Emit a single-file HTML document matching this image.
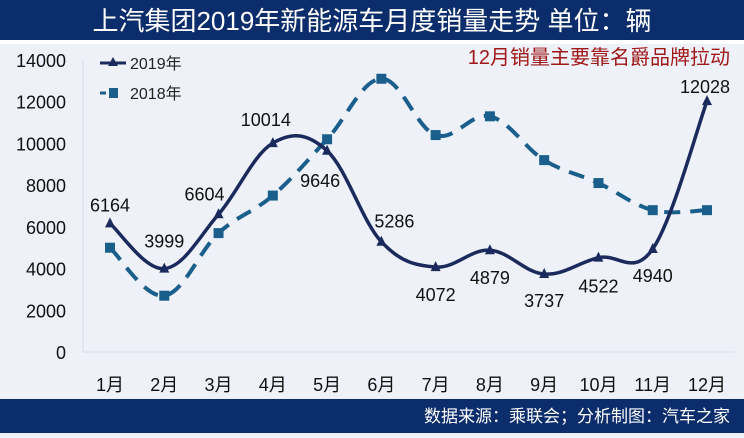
<!DOCTYPE html>
<html><head><meta charset="utf-8"><style>
body{margin:0;width:744px;height:433px;overflow:hidden;font-family:"Liberation Sans","Noto Sans CJK SC",sans-serif;background:#eef1f8}
</style></head><body>
<svg id="c" width="744" height="433" xmlns="http://www.w3.org/2000/svg">
<rect x="0" y="0" width="744" height="40" fill="#0c2d6b"/>
<rect x="0" y="40" width="744" height="4" fill="#ffffff"/>
<text x="372" y="30" text-anchor="middle" font-size="26" fill="#ffffff" font-family="Liberation Sans,Noto Sans CJK SC,sans-serif">上汽集团2019年新能源车月度销量走势  单位：辆</text>
<rect x="0" y="399" width="744" height="34" fill="#0c2d6b"/>
<text x="730" y="422" text-anchor="end" font-size="17" fill="#ffffff" font-family="Liberation Sans,Noto Sans CJK SC,sans-serif">数据来源：乘联会；分析制图：汽车之家</text>
<text x="730" y="64" text-anchor="end" font-size="20" fill="#a01818" font-family="Liberation Sans,Noto Sans CJK SC,sans-serif">12月销量主要靠名爵品牌拉动</text>
<line x1="83" y1="60" x2="83" y2="352" stroke="#d6dbe6" stroke-width="1"/>
<g id="legend">
<g><line x1="100" y1="63" x2="126" y2="63" stroke="#1a2a5c" stroke-width="3"/><path d="M113,57 L118,66 L108,66Z" fill="#1a2a5c"/><text x="130" y="69" font-size="16" fill="#222" font-family="Liberation Sans,Noto Sans CJK SC,sans-serif">2019年</text></g>
<g><line x1="100" y1="93" x2="106" y2="93" stroke="#1a5f8c" stroke-width="3"/><rect x="109" y="88" width="9" height="10" fill="#1a5f8c"/><text x="130" y="99" font-size="16" fill="#222" font-family="Liberation Sans,Noto Sans CJK SC,sans-serif">2018年</text></g>
</g>
<g id="axes"></g><g id="marks"></g>
</svg>
<script>
const categories=["1月","2月","3月","4月","5月","6月","7月","8月","9月","10月","11月","12月"];
const sales2019=[6164,3999,6604,10014,9646,5286,4072,4879,3737,4522,4940,12028];
const sales2018=[5000,2700,5700,7500,10200,13100,10400,11300,9200,8100,6800,6800];
const yTicks=[0,2000,4000,6000,8000,10000,12000,14000];
const labelDx=[0,0,-14,-7,-7,13,0,0,0,0,0,-2];
const labelDy=[-12,-21,-14,-17,36,-14,34,34,33,35,33,-8];
const NS="http://www.w3.org/2000/svg";
const x=i=>110+i*(707-110)/11;
const y=v=>352-v*(352-60)/14000;
const axes=document.getElementById('axes'),marks=document.getElementById('marks');
function mk(t,a,p){const e=document.createElementNS(NS,t);for(const k in a)e.setAttribute(k,a[k]);p.appendChild(e);return e;}
const base=mk('line',{x1:83,x2:735,y1:y(0),y2:y(0),stroke:'#d6dbe6','stroke-width':1},axes);


yTicks.forEach(v=>{const t=mk('text',{x:66,y:y(v)+7,'text-anchor':'end','font-size':18,fill:'#111'},axes);t.textContent=v;

});
categories.forEach((c,i)=>{const t=mk('text',{x:x(i),y:391,'text-anchor':'middle','font-size':18,fill:'#111','font-family':'Liberation Sans,Noto Sans CJK SC,sans-serif'},axes);t.textContent=c;

});
function smooth(vals){const p=vals.map((v,i)=>[x(i),y(v)]);let d=`M${p[0][0]},${p[0][1]}`;
for(let i=0;i<p.length-1;i++){const p0=p[i-1]||p[i],p1=p[i],p2=p[i+1],p3=p[i+2]||p2;const t=0.18;
d+=` C${p1[0]+(p2[0]-p0[0])*t},${p1[1]+(p2[1]-p0[1])*t} ${p2[0]-(p3[0]-p1[0])*t},${p2[1]-(p3[1]-p1[1])*t} ${p2[0]},${p2[1]}`;}return d;}
const l18=mk('path',{d:smooth(sales2018),fill:'none',stroke:'#1a5f8c','stroke-width':4,'stroke-dasharray':'16 10'},marks);


sales2018.forEach((v,i)=>{const r=mk('rect',{x:x(i)-5,y:y(v)-5,width:10,height:10,fill:'#1a5f8c'},marks);

});
const l19=mk('path',{d:smooth(sales2019),fill:'none',stroke:'#1a2a5c','stroke-width':3.5},marks);


sales2019.forEach((v,i)=>{const px=x(i),py=y(v);const m=mk('path',{d:`M${px},${py-6} L${px+5},${py+4} L${px-5},${py+4}Z`,fill:'#1a2a5c'},marks);


const t=mk('text',{x:px+labelDx[i],y:py+labelDy[i],'text-anchor':'middle','font-size':18,fill:'#111'},marks);t.textContent=v;

});
</script>
</body></html>
